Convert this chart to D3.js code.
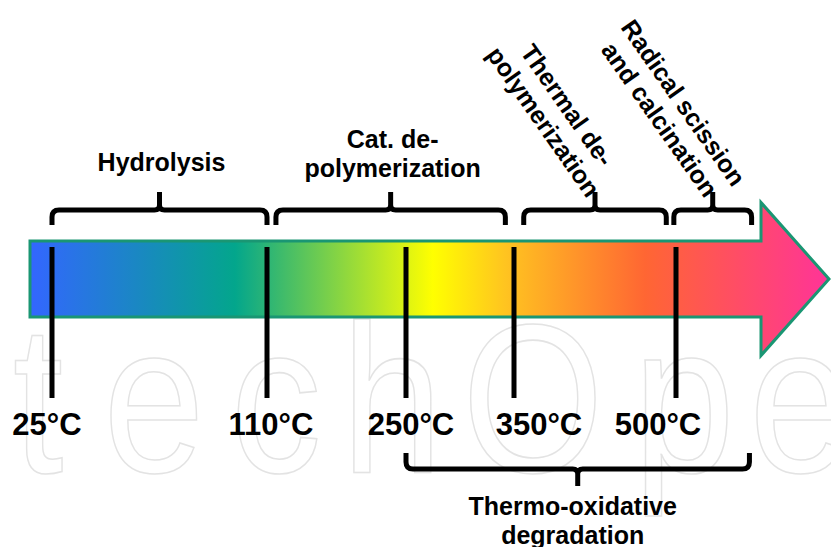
<!DOCTYPE html>
<html>
<head>
<meta charset="utf-8">
<script src="https://cdn.jsdelivr.net/npm/d3@7"></script>
<style>
  body { margin: 0; background: #fff; }
  svg { display: block; }
</style>
</head>
<body>
<script>
// temperature marks along the arrow
var temps = [25, 110, 250, 350, 500];
var tempLabels = ["25°C", "110°C", "250°C", "350°C", "500°C"];
var labelNudge = [-5, 4, 5, 25, -18];

// processes above the arrow (ranges in °C)
var stageNames = [["Hydrolysis"], ["Cat. de-", "polymerization"], ["Thermal de-", "polymerization"], ["Radical scission", "and calcination"]];
var stageFrom = [25, 119, 359, 498];
var stageTo = [110, 342, 491, 570];
var stageRotated = [false, false, true, true];

// process below the arrow
var lowerName = ["Thermo-oxidative", "degradation"];
var lowerFrom = 250, lowerTo = 568;

// watermark letters
var markLetters = ["t", "e", "c", "h", "O", "p", "e"];
var markX = [38, 154, 276, 392, 533, 684, 800];

var w = 831, h = 547;
var font = "'Liberation Sans', Arial, sans-serif";

var svg = d3.select("body").append("svg")
    .attr("width", w)
    .attr("height", h);

// piecewise scale, the ticks are not evenly spaced in the picture
var x = d3.scaleLinear()
    .domain(temps)
    .range([52, 267, 406, 514, 676]);

// faint watermark behind everything
svg.append("g")
    .selectAll("text")
    .data(markLetters)
    .enter()
    .append("text")
    .attr("transform", function(d, i) { return "translate(" + markX[i] + ",472) scale(0.86,1)"; })
    .attr("text-anchor", "middle")
    .attr("font-family", font)
    .attr("font-size", 212)
    .attr("fill", "none")
    .attr("stroke", "#e3e3e3")
    .attr("stroke-width", 1.6)
    .text(function(d) { return d; });

// gradient for the arrow
var defs = svg.append("defs");
var grad = defs.append("linearGradient")
    .attr("id", "heat")
    .attr("gradientUnits", "userSpaceOnUse")
    .attr("x1", 30).attr("x2", 831)
    .attr("y1", 0).attr("y2", 0);
var stops = [[0, "#3366ff"], [0.256, "#03a68c"], [0.503, "#ffff00"], [0.593, "#ffc420"], [0.768, "#ff6633"], [1, "#ff3399"]];
grad.selectAll("stop")
    .data(stops)
    .enter()
    .append("stop")
    .attr("offset", function(d) { return d[0]; })
    .attr("stop-color", function(d) { return d[1]; });

// arrow body + head
var bodyTop = 241, bodyBot = 317, bodyMid = (bodyTop + bodyBot) / 2, headX = 761, headHalf = 76.5;
var ap = d3.path();
ap.moveTo(30, bodyTop);
ap.lineTo(headX, bodyTop);
ap.lineTo(headX, bodyMid - headHalf);
ap.lineTo(829, bodyMid);
ap.lineTo(headX, bodyMid + headHalf);
ap.lineTo(headX, bodyBot);
ap.lineTo(30, bodyBot);
ap.closePath();
svg.append("path")
    .attr("d", ap.toString())
    .attr("fill", "url(#heat)")
    .attr("stroke", "#1a9673")
    .attr("stroke-width", 3)
    .attr("stroke-linejoin", "miter");

// tick lines
svg.append("g")
    .selectAll("line")
    .data(temps)
    .enter()
    .append("line")
    .attr("x1", function(d) { return x(d); })
    .attr("x2", function(d) { return x(d); })
    .attr("y1", 247)
    .attr("y2", 398)
    .attr("stroke", "black")
    .attr("stroke-width", 5);

svg.append("g")
    .selectAll("text")
    .data(temps)
    .enter()
    .append("text")
    .attr("x", function(d, i) { return x(d) + labelNudge[i]; })
    .attr("y", 435)
    .attr("text-anchor", "middle")
    .attr("font-family", font)
    .attr("font-weight", "bold")
    .attr("font-size", 31)
    .text(function(d, i) { return tempLabels[i]; });

// bracket: ends at yEnd, bar at yBar, nub out to yNub
function bracket(x0, x1, yEnd, yBar, yNub) {
    var s = yEnd > yBar ? 1 : -1, r = 7, rn = 5, xm = (x0 + x1) / 2;
    var p = d3.path();
    p.moveTo(x0, yEnd);
    p.lineTo(x0, yBar + s * r);
    p.quadraticCurveTo(x0, yBar, x0 + r, yBar);
    p.lineTo(xm - rn, yBar);
    p.quadraticCurveTo(xm, yBar, xm, yBar - s * rn);
    p.lineTo(xm, yNub);
    p.moveTo(xm, yBar - s * rn);
    p.quadraticCurveTo(xm, yBar, xm + rn, yBar);
    p.lineTo(x1 - r, yBar);
    p.quadraticCurveTo(x1, yBar, x1, yBar + s * r);
    p.lineTo(x1, yEnd);
    return p.toString();
}

var upper = svg.append("g")
    .selectAll("g")
    .data(stageNames)
    .enter()
    .append("g");

upper.append("path")
    .attr("d", function(d, i) { return bracket(x(stageFrom[i]), x(stageTo[i]), 225, 210, 192); })
    .attr("fill", "none")
    .attr("stroke", "black")
    .attr("stroke-width", 5);

upper.append("text")
    .attr("font-family", font)
    .attr("font-weight", "bold")
    .attr("font-size", 25)
    .attr("text-anchor", "middle")
    .each(function(d, i) {
        var t = d3.select(this);
        var last;
        d.forEach(function(line, j) {
            last = t.append("tspan")
                .attr("x", 0)
                .attr("y", stageRotated[i] ? (j - d.length + 1) * 29 : j * 29)
                .text(line);
        });
        var cx = (x(stageFrom[i]) + x(stageTo[i])) / 2;
        if (stageRotated[i]) {
            // last line ends just at the nub, lines centred on each other
            var half = last.node().getComputedTextLength() / 2;
            t.attr("transform", "translate(" + (cx - 8) + ",199) rotate(55) translate(" + (-half) + ",0)");
        } else {
            t.attr("transform", "translate(" + (cx + 2) + "," + (171 + (d.length - 1) * (177 - 171 - 29)) + ")");
        }
    });

// lower bracket
var lx0 = x(lowerFrom), lx1 = x(lowerTo);
svg.append("path")
    .attr("d", bracket(lx0, lx1, 453, 469, 486))
    .attr("fill", "none")
    .attr("stroke", "black")
    .attr("stroke-width", 5);

svg.append("text")
    .attr("font-family", font)
    .attr("font-weight", "bold")
    .attr("font-size", 25)
    .attr("text-anchor", "middle")
    .selectAll("tspan")
    .data(lowerName)
    .enter()
    .append("tspan")
    .attr("x", (lx0 + lx1) / 2 - 5)
    .attr("y", function(d, i) { return 515 + i * 29; })
    .text(function(d) { return d; });
</script>
</body>
</html>
